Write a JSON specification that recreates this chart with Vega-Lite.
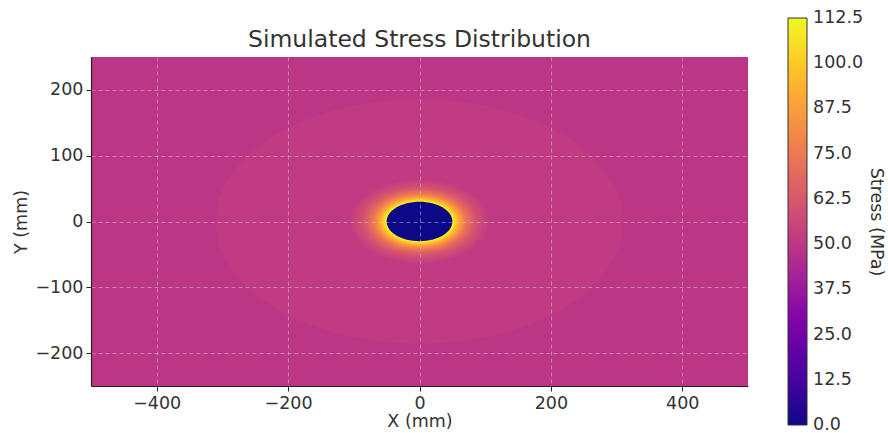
{
  "$schema": "https://vega.github.io/schema/vega-lite/v6.json",
  "autosize": {"type": "none"},
  "padding": {"left": 91, "top": 57, "right": 140, "bottom": 47},
  "width": 657,
  "height": 329,
  "background": "white",
  "title": {"text": "Simulated Stress Distribution", "fontSize": 23.5, "font": "DejaVu Sans", "fontWeight": "normal", "color": "#333333", "offset": -33},
  "config": {
    "view": {"stroke": null},
    "axis": {
      "labelFont": "DejaVu Sans", "labelFontSize": 17.5, "labelColor": "#333333",
      "titleFont": "DejaVu Sans", "titleFontSize": 17.5, "titleFontWeight": "normal", "titleColor": "#333333",
      "domainColor": "#222222", "domainWidth": 1.2, "tickColor": "#222222", "tickSize": 5, "tickWidth": 1,
      "labelPadding": 3,
      "gridColor": "#dddddd", "gridOpacity": 0.55, "gridDash": [4, 3], "gridWidth": 0.8
    },
    "legend": {
      "labelFont": "DejaVu Sans", "labelFontSize": 17.5, "labelColor": "#333333",
      "titleFont": "DejaVu Sans", "titleFontSize": 17.5, "titleFontWeight": "normal", "titleColor": "#333333"
    }
  },
  "layer": [
    {
      "data": {"values": [{"x": -500, "x2": 500, "y": -250, "y2": 250, "stress": 49.5}]},
      "mark": {"type": "rect"},
      "encoding": {
        "x": {"field": "x", "type": "quantitative", "scale": {"domain": [-500, 500], "nice": false, "zero": false},
              "axis": {"title": "X (mm)", "values": [-400, -200, 0, 200, 400], "titlePadding": 1, "grid": true, "zindex": 1}},
        "x2": {"field": "x2"},
        "y": {"field": "y", "type": "quantitative", "scale": {"domain": [-250, 250], "nice": false, "zero": false},
              "axis": {"title": "Y (mm)", "values": [-200, -100, 0, 100, 200], "titlePadding": 4, "grid": true, "zindex": 1}},
        "y2": {"field": "y2"},
        "color": {
          "field": "stress", "type": "quantitative",
          "scale": {"scheme": "plasma", "domain": [0, 112.5]},
          "legend": {
            "orient": "none", "legendX": 697, "legendY": -39, "direction": "vertical",
            "gradientLength": 407, "gradientThickness": 19,
            "gradientStrokeColor": "#333333", "gradientStrokeWidth": 1,
            "values": [0.001, 12.5, 25, 37.5, 50, 62.5, 75, 87.5, 100, 112.499],
            "format": ".1f", "labelOverlap": false, "labelOffset": 6,
            "title": "Stress (MPa)", "titleOrient": "right", "titleAnchor": "middle", "titlePadding": 4,
            "padding": 0
          }
        }
      }
    },
    {
      "data": {"values": [
        {"cx": 0, "cy": 0, "a": 310, "stress": 51.5},
        {"cx": 0, "cy": 0, "a": 104, "stress": 54},
        {"cx": 0, "cy": 0, "a": 98, "stress": 56.5},
        {"cx": 0, "cy": 0, "a": 92, "stress": 59},
        {"cx": 0, "cy": 0, "a": 87, "stress": 62},
        {"cx": 0, "cy": 0, "a": 82, "stress": 65.5},
        {"cx": 0, "cy": 0, "a": 78, "stress": 69},
        {"cx": 0, "cy": 0, "a": 74, "stress": 73},
        {"cx": 0, "cy": 0, "a": 70, "stress": 77.5},
        {"cx": 0, "cy": 0, "a": 67, "stress": 82},
        {"cx": 0, "cy": 0, "a": 64, "stress": 87},
        {"cx": 0, "cy": 0, "a": 61, "stress": 92},
        {"cx": 0, "cy": 0, "a": 58, "stress": 97},
        {"cx": 0, "cy": 0, "a": 56, "stress": 102},
        {"cx": 0, "cy": 0, "a": 54, "stress": 106},
        {"cx": 0, "cy": 0, "a": 52, "stress": 110},
        {"cx": 0, "cy": 0, "a": 50, "stress": 0}
      ]},
      "mark": {"type": "point", "shape": "M-1,0A1,0.6,0,1,1,1,0A1,0.6,0,1,1,-1,0Z", "filled": true, "opacity": 1, "strokeWidth": 0},
      "encoding": {
        "x": {"field": "cx", "type": "quantitative"},
        "y": {"field": "cy", "type": "quantitative"},
        "size": {"field": "a", "type": "quantitative", "scale": {"type": "pow", "exponent": 2, "domain": [0, 500], "range": [0, 431650]}, "legend": null},
        "color": {"field": "stress", "type": "quantitative"}
      }
    }
  ]
}
